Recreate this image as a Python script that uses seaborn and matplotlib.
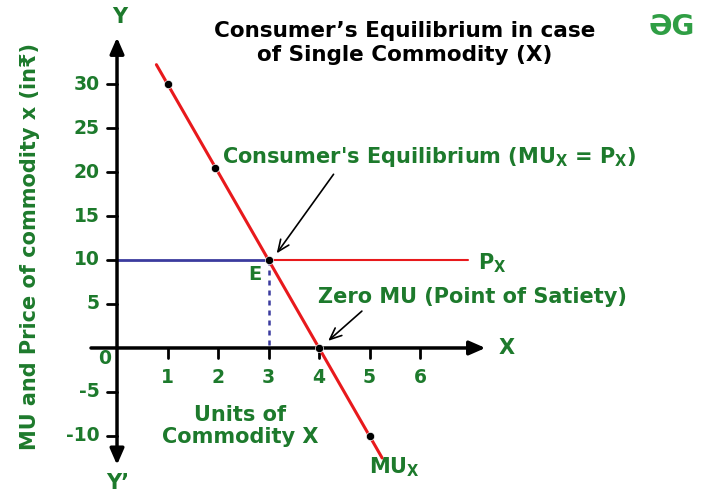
import numpy as np
import pandas as pd
import matplotlib.pyplot as plt
import seaborn as sns

# Datos del gráfico
mu_units = [0.78, 1, 1.95, 3, 4, 5, 5.25]
mu_values = [32.2, 30, 20.5, 10, 0, -10, -12.5]
point_units = [1, 1.95, 3, 4, 5]
point_values = [30, 20.5, 10, 0, -10]
price = 10
eq_units = 3
px_end = 6.95
x_ticks = [1, 2, 3, 4, 5, 6]
y_ticks = [30, 25, 20, 15, 10, 5, -5, -10]

GREEN = "#1d7a2c"
RED = "#e8191c"
BLUE = "#3b3b9e"

sns.set_theme(style="white")
plt.rcParams["font.family"] = ["DejaVu Sans"]
plt.rcParams["font.weight"] = "bold"
plt.rcParams["mathtext.default"] = "bf"

fig = plt.figure(figsize=(7.2, 4.98), dpi=100)
ax = fig.add_axes([0, 0, 1, 1])
ax.set_xlim(-2.317, 11.94)
ax.set_ylim(-17.05, 39.55)
ax.axis("off")

# Ejes con flechas
flecha = dict(arrowstyle="-|>,head_length=0.8,head_width=0.35", color="black", lw=2.5)
ax.annotate("", xy=(7.35, 0), xytext=(-0.57, 0), arrowprops=flecha)
ax.annotate("", xy=(0, 35.6), xytext=(0, -0.2), arrowprops=flecha)
ax.annotate("", xy=(0, -13.6), xytext=(0, 0.2), arrowprops=flecha)

for t in x_ticks:
    ax.plot([t, t], [0, -1.1], color="black", lw=2)
    ax.text(t, -3.4, str(t), color=GREEN, fontsize=13.5, ha="center", va="center")
for t in y_ticks:
    ax.plot([-0.2, 0], [t, t], color="black", lw=2)
    ax.text(-0.34, t, str(t), color=GREEN, fontsize=13.5, ha="right", va="center")
ax.text(-0.24, -1.2, "0", color=GREEN, fontsize=13.5, ha="center", va="center")

# Línea de precio (azul hasta el equilibrio, roja después)
sns.lineplot(x=[0, eq_units], y=[price, price], color=BLUE, lw=2, ax=ax)
sns.lineplot(x=[eq_units, px_end], y=[price, price], color=RED, lw=1.5, ax=ax)
ax.plot([eq_units, eq_units], [price, 0], color=BLUE, lw=1.8, ls=(0, (2, 2)))

# Curva MU
mu = pd.DataFrame({"unidades": mu_units, "mu": mu_values})
sns.lineplot(data=mu, x="unidades", y="mu", color=RED, lw=2.2, ax=ax, sort=False)
sns.scatterplot(x=point_units, y=point_values, color="black", s=35, zorder=5, ax=ax)

# Textos
ax.text(0.06, 37.6, "Y", color=GREEN, fontsize=15, ha="center", va="center")
ax.text(0.02, -15.3, "Y’", color=GREEN, fontsize=15, ha="center", va="center")
ax.text(7.55, 0, "X", color=GREEN, fontsize=15, ha="left", va="center")
ax.text(2.73, 8.3, "E", color=GREEN, fontsize=14, ha="center", va="center")
ax.text(7.15, 9.6, r"P$_\mathbf{X}$", color=GREEN, fontsize=15, ha="left", va="center")
ax.text(4.98, -13.6, r"MU$_\mathbf{X}$", color=GREEN, fontsize=15, ha="left", va="center")
ax.text(2.44, -8.9, "Units of\nCommodity X", color=GREEN, fontsize=15, ha="center", va="center",
        linespacing=1.15)

ax.text(2.08, 21.7, "Consumer's Equilibrium (MU$_\\mathbf{X}$ = P$_\\mathbf{X}$)",
        color=GREEN, fontsize=15, ha="left", va="center")
ax.annotate("", xy=(3.13, 10.5), xytext=(4.32, 20.0),
            arrowprops=dict(arrowstyle="->,head_length=0.7,head_width=0.3", color="black", lw=1.2))
ax.text(3.98, 5.8, "Zero MU (Point of Satiety)", color=GREEN, fontsize=15, ha="left", va="center")
ax.annotate("", xy=(4.14, 0.6), xytext=(4.89, 4.4),
            arrowprops=dict(arrowstyle="->,head_length=0.7,head_width=0.3", color="black", lw=1.2))

fig.text(405 / 720, 1 - 43 / 498, "Consumer’s Equilibrium in case\nof Single Commodity (X)",
         color="black", fontsize=15.5, ha="center", va="center", linespacing=1.2)
fig.text(30 / 720, 1 - 246 / 498, "MU and Price of commodity x (in₹)", color=GREEN,
         fontsize=15, rotation=90, ha="center", va="center")
fig.text(672 / 720, 1 - 27 / 498, "ƏG", color="#2f9e44", fontsize=20, ha="center", va="center")

fig.savefig("out.png", dpi=100)
